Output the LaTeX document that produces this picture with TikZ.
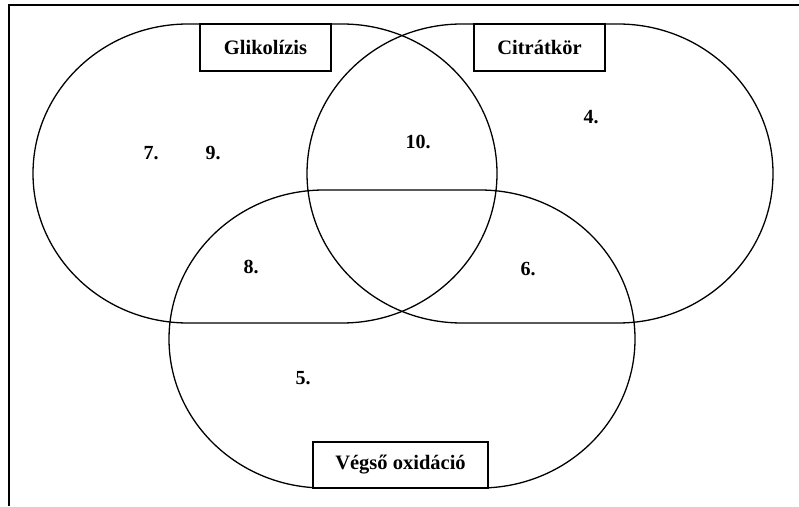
\documentclass[tikz,border=0pt]{standalone}
\usepackage{fontspec}
\setmainfont{Liberation Serif}
\begin{document}
\begin{tikzpicture}[x=1pt,y=1pt,
  setline/.style={line width=1.3pt},
  titlebox/.style={draw, fill=white, line width=1.3pt, inner sep=0pt, minimum height=47pt, font=\fontsize{20.5}{22}\selectfont\bfseries},
  numlabel/.style={inner sep=0pt, font=\fontsize{20}{22}\selectfont\bfseries}]
\useasboundingbox (0,0) rectangle (799,506);
% frame
\draw[line width=2pt] (9,0) -- (9,501) -- (799,501);
% left set (Glikolizis)
\draw[setline] (188,482) -- (342,482) arc[start angle=90,end angle=-90,x radius=155,y radius=149.5]
  -- (188,183) arc[start angle=270,end angle=90,x radius=155,y radius=149.5] -- cycle;
% right set (Citratkor)
\draw[setline] (462,482) -- (618,482) arc[start angle=90,end angle=-90,x radius=155,y radius=149.5]
  -- (462,183) arc[start angle=270,end angle=90,x radius=155,y radius=149.5] -- cycle;
% bottom set (Vegso oxidacio)
\draw[setline] (324,316) -- (480,316) arc[start angle=90,end angle=-90,x radius=155,y radius=149]
  -- (324,18) arc[start angle=270,end angle=90,x radius=155,y radius=149] -- cycle;
% title boxes
\node[titlebox, minimum width=131pt] (glik) at (265.5,458.5) {Glikolízis};
\node[titlebox, minimum width=131pt] (citr) at (539.5,458.5) {Citrátkör};
\node[titlebox, minimum width=175pt, minimum height=46pt] (vegso) at (400.5,41) {Végső oxidáció};
% numbers
\node[numlabel] (n7) at (151,353) {7.};
\node[numlabel] (n9) at (213,353) {9.};
\node[numlabel] (n10) at (418,364) {10.};
\node[numlabel] (n4) at (591,389) {4.};
\node[numlabel] (n8) at (251,239) {8.};
\node[numlabel] (n6) at (528,237) {6.};
\node[numlabel] (n5) at (303,128) {5.};
\end{tikzpicture}
\end{document}
